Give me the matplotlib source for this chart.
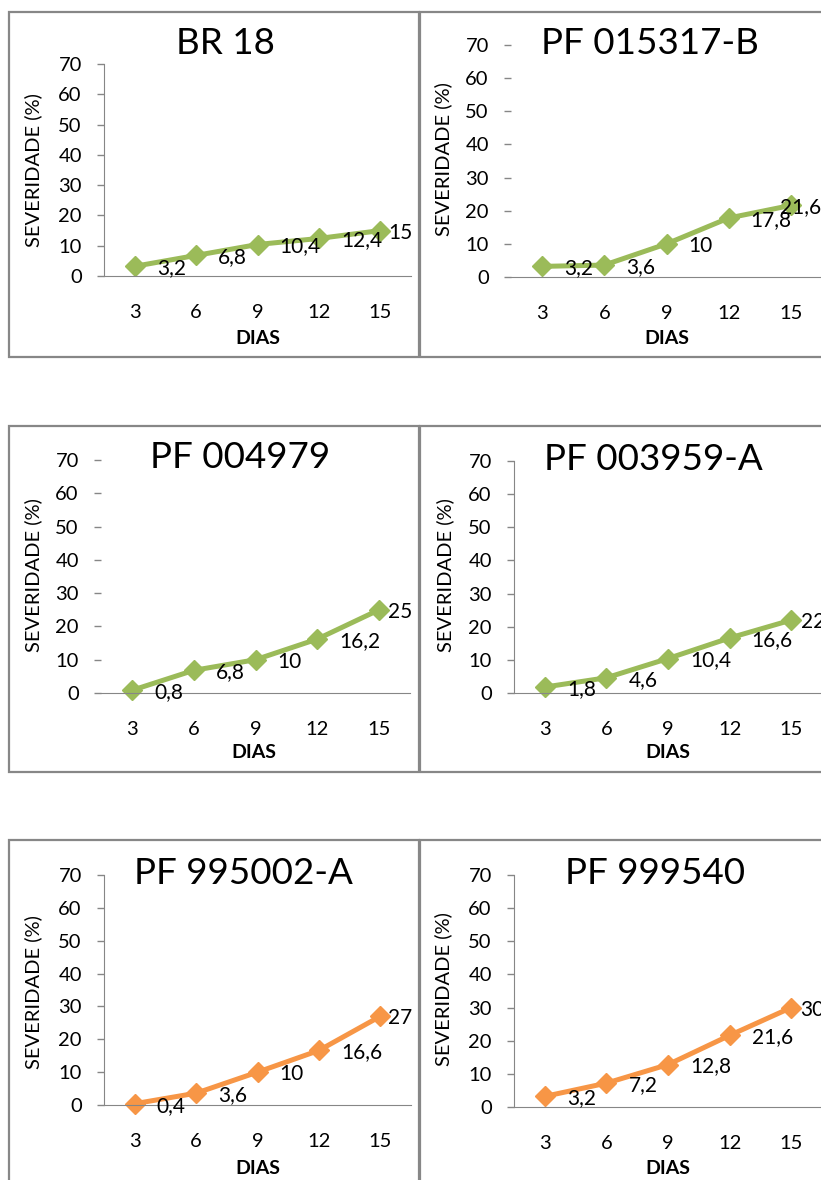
import matplotlib
matplotlib.use('Agg')
import matplotlib.pyplot as plt
from matplotlib.patches import Rectangle

plt.rcParams['font.family'] = ['Lato', 'DejaVu Sans']

W, H = 821, 1180

# dados
days = [3, 6, 9, 12, 15]
yticks = [0, 10, 20, 30, 40, 50, 60, 70]
titles = ['BR 18', 'PF 015317-B', 'PF 004979', 'PF 003959-A', 'PF 995002-A', 'PF 999540']
br18 = [3.2, 6.8, 10.4, 12.4, 15]
pf015317b = [3.2, 3.6, 10, 17.8, 21.6]
pf004979 = [0.8, 6.8, 10, 16.2, 25]
pf003959a = [1.8, 4.6, 10.4, 16.6, 22]
pf995002a = [0.4, 3.6, 10, 16.6, 27]
pf999540 = [3.2, 7.2, 12.8, 21.6, 30]
series = [br18, pf015317b, pf004979, pf003959a, pf995002a, pf999540]
colors = ['#9bbb59', '#9bbb59', '#9bbb59', '#9bbb59', '#f79646', '#f79646']

# layout em pixels: caixa, area do grafico (esq, dir, topo, base), eixo y visivel,
# centros do titulo / rotulo y / rotulo x, deslocamento do ultimo rotulo
panels = [
    dict(box=(9, 12, 419, 357), area=(104, 411, 64, 276), spine=True, title=(225, 43), ylab=(33, 170), xlab=(258, 338), last=8),
    dict(box=(420, 12, 830, 357), area=(511, 822, 45, 277), spine=False, title=(650, 43), ylab=(443, 159), xlab=(667, 338), last=-11),
    dict(box=(9, 426, 419, 772), area=(101, 410, 460, 693), spine=False, title=(240, 458), ylab=(33, 575), xlab=(254, 753), last=9),
    dict(box=(420, 426, 830, 772), area=(514, 822, 461, 693), spine=True, title=(653, 459), ylab=(445, 575), xlab=(668, 753), last=10),
    dict(box=(9, 840, 419, 1190), area=(104, 411, 875, 1105), spine=True, title=(243, 873), ylab=(33, 992), xlab=(258, 1168), last=8),
    dict(box=(420, 840, 830, 1190), area=(514, 822, 875, 1107), spine=True, title=(655, 873), ylab=(443, 989), xlab=(668, 1168), last=9),
]


def fx(x):
    return x / W


def fy(y):
    return 1 - y / H


def fmt(v):
    if v == int(v):
        return str(int(v))
    return ('%.1f' % v).replace('.', ',')


fig = plt.figure(figsize=(W / 100, H / 100), dpi=100)
PX = 72 / 100  # pixels -> points

for p, title, vals, c in zip(panels, titles, series, colors):
    x0, y0, x1, y1 = p['box']
    fig.add_artist(Rectangle((fx(x0), fy(y1)), (x1 - x0) / W, (y1 - y0) / H,
                             transform=fig.transFigure, fill=False, ec='#878787', lw=1.6))

    l, r, t, b = p['area']
    ax = fig.add_axes([fx(l), fy(b), (r - l) / W, (b - t) / H])
    ax.patch.set_alpha(0)
    ax.plot(days, vals, color=c, lw=3.6, marker='D', ms=10, clip_on=False)
    for i, (d, v) in enumerate(zip(days, vals)):
        dx = 22 if i < len(days) - 1 else p['last']
        ax.annotate(fmt(v), (d, v), xytext=(dx * PX, -2 * PX), textcoords='offset points',
                    ha='left', va='center', fontsize=15, annotation_clip=False)

    ax.set_xlim(1.5, 16.5)
    ax.set_ylim(0, 70)
    ax.set_xticks(days)
    ax.set_yticks(yticks)
    ax.tick_params(axis='y', length=5, width=1, color='#868686', pad=11, labelsize=14.5)
    ax.tick_params(axis='x', length=0, pad=20, labelsize=14.5)
    for s in ['top', 'right']:
        ax.spines[s].set_visible(False)
    ax.spines['left'].set_visible(p['spine'])
    ax.spines['left'].set_color('#868686')
    ax.spines['bottom'].set_color('#868686')

    fig.text(fx(p['title'][0]), fy(p['title'][1]), title, fontsize=26.5, ha='center', va='center')
    fig.text(fx(p['ylab'][0]), fy(p['ylab'][1]), 'SEVERIDADE (%)', fontsize=14.5, rotation=90,
             ha='center', va='center')
    fig.text(fx(p['xlab'][0]), fy(p['xlab'][1]), 'DIAS', fontsize=14, fontweight='bold',
             ha='center', va='center')

fig.savefig('out.png', dpi=100)
